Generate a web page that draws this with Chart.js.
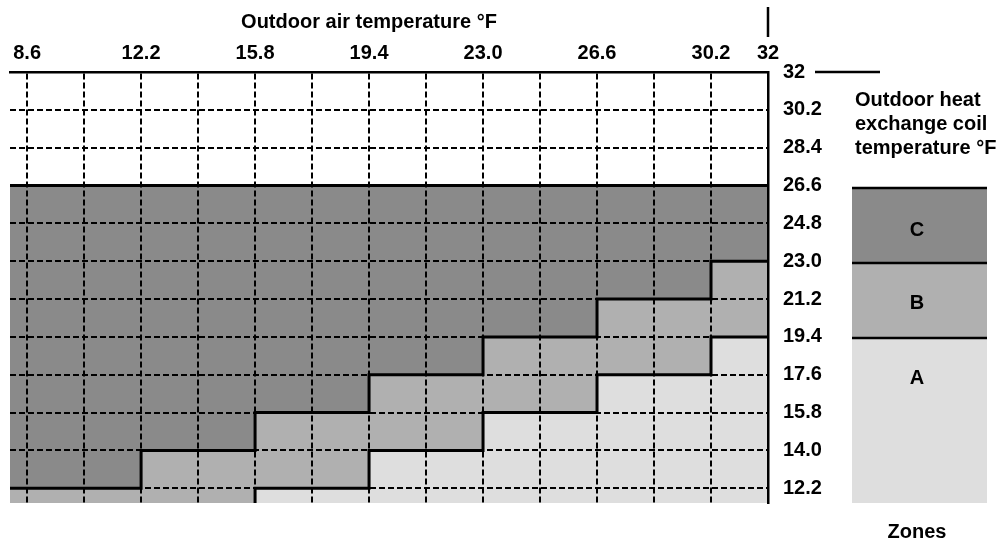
<!DOCTYPE html>
<html>
<head>
<meta charset="utf-8">
<script src="https://cdn.jsdelivr.net/npm/chart.js@4.4.1/dist/chart.umd.min.js"></script>
<style>
  html, body { margin: 0; padding: 0; background: #fff; }
  #zoneChart { display: block; }
</style>
</head>
<body>
<canvas id="zoneChart" width="1005" height="543"></canvas>
<script>
// Axis ticks (°F)
const xTicks      = [8.6, 10.4, 12.2, 14.0, 15.8, 17.6, 19.4, 21.2, 23.0, 24.8, 26.6, 28.4, 30.2, 32];
const xTickLabels = ['8.6', '', '12.2', '', '15.8', '', '19.4', '', '23.0', '', '26.6', '', '30.2', '32'];
const yTicks      = [32, 30.2, 28.4, 26.6, 24.8, 23.0, 21.2, 19.4, 17.6, 15.8, 14.0, 12.2];
const yTickLabels = ['32', '30.2', '28.4', '26.6', '24.8', '23.0', '21.2', '19.4', '17.6', '15.8', '14.0', '12.2'];

// Step positions along outdoor air temperature
const stepX   = [8.06, 12.2, 15.8, 19.4, 23.0, 26.6, 30.2, 32];
// Coil temperature limits for each step
const zoneTop = [26.6, 26.6, 26.6, 26.6, 26.6, 26.6, 26.6, 26.6]; // top of zone C
const zoneCB  = [12.2, 14.0, 15.8, 17.6, 19.4, 21.2, 23.0, 23.0]; // C / B boundary
const zoneBA  = [8.6, 10.4, 12.2, 14.0, 15.8, 17.6, 19.4, 19.4];  // B / A boundary

const ZONE_COLOR = { C: '#8a8a8a', B: '#b0b0b0', A: '#dedede' };
const FONT = "'Liberation Sans', Arial, Helvetica, sans-serif";

const toPoints = ys => stepX.map((x, i) => ({ x, y: ys[i] }));

const extras = {
  id: 'extras',
  afterDraw(chart) {
    const ctx = chart.ctx;
    const area = chart.chartArea;
    ctx.save();
    ctx.fillStyle = '#000';
    ctx.strokeStyle = '#000';
    ctx.font = 'bold 20px ' + FONT;
    ctx.textBaseline = 'middle';
    ctx.textAlign = 'center';
    ctx.fillText('Outdoor air temperature \u00b0F', 369, 22);

    // little marks near the 32 corner
    ctx.lineWidth = 2.5;
    ctx.beginPath();
    ctx.moveTo(area.right, 7); ctx.lineTo(area.right, 37);
    ctx.moveTo(815, area.top); ctx.lineTo(880, area.top);
    ctx.stroke();

    // legend title
    ctx.textAlign = 'left';
    ['Outdoor heat', 'exchange coil', 'temperature \u00b0F'].forEach((t, i) => {
      ctx.fillText(t, 855, 100 + i * 24);
    });

    // legend boxes
    const boxes = [
      { k: 'C', y0: 188, y1: 263 },
      { k: 'B', y0: 263, y1: 338 },
      { k: 'A', y0: 338, y1: 503 },
    ];
    boxes.forEach(b => {
      ctx.fillStyle = ZONE_COLOR[b.k];
      ctx.fillRect(852, b.y0, 135, b.y1 - b.y0);
    });
    ctx.lineWidth = 2.5;
    ctx.beginPath();
    [188, 263, 338].forEach(y => { ctx.moveTo(852, y); ctx.lineTo(987, y); });
    ctx.stroke();
    ctx.fillStyle = '#000';
    ctx.textAlign = 'center';
    ctx.fillText('C', 917, 230);
    ctx.fillText('B', 917, 303);
    ctx.fillText('A', 917, 378);
    ctx.fillText('Zones', 917, 532);
    ctx.restore();
  }
};

const lineStyle = {
  borderColor: '#000',
  borderWidth: 3,
  pointRadius: 0,
  tension: 0,
  stepped: true,
  fill: 'start',
};

new Chart(document.getElementById('zoneChart'), {
  type: 'line',
  data: {
    datasets: [
      { label: 'A', data: toPoints(zoneBA),  backgroundColor: ZONE_COLOR.A, order: 1, ...lineStyle },
      { label: 'B', data: toPoints(zoneCB),  backgroundColor: ZONE_COLOR.B, order: 2, ...lineStyle },
      { label: 'C', data: toPoints(zoneTop), backgroundColor: ZONE_COLOR.C, order: 3, ...lineStyle },
    ]
  },
  options: {
    responsive: false,
    animation: false,
    layout: { padding: { left: 10, top: 0, right: 0, bottom: 40 } },
    plugins: {
      legend: { display: false },
      tooltip: { enabled: false },
      filler: { drawTime: 'beforeDatasetsDraw' },
    },
    scales: {
      x: {
        type: 'linear',
        position: 'top',
        min: 8.06,
        max: 32,
        afterFit: s => { s.height = 72; },
        afterBuildTicks: s => { s.ticks = xTicks.map(v => ({ value: v })); },
        ticks: {
          autoSkip: false,
          maxRotation: 0,
          padding: 7,
          color: '#000',
          font: { family: FONT, size: 20, weight: 'bold' },
          callback: v => xTickLabels[xTicks.indexOf(v)] ?? '',
        },
        grid: { color: '#000', lineWidth: 2, drawTicks: false, z: 1 },
        border: { display: true, color: '#000', width: 2.5, dash: [6, 3], z: 2 },
      },
      y: {
        type: 'linear',
        position: 'right',
        min: 11.5,
        max: 32,
        afterFit: s => { s.width = 237; },
        afterBuildTicks: s => { s.ticks = yTicks.map(v => ({ value: v })); },
        ticks: {
          autoSkip: false,
          padding: 15,
          color: '#000',
          font: { family: FONT, size: 20, weight: 'bold' },
          callback: v => yTickLabels[yTicks.indexOf(v)] ?? '',
        },
        grid: { color: '#000', lineWidth: 2, drawTicks: false, z: 1 },
        border: { display: true, color: '#000', width: 2.5, dash: [6, 3], z: 2 },
      }
    }
  },
  plugins: [extras]
});
</script>
</body>
</html>
